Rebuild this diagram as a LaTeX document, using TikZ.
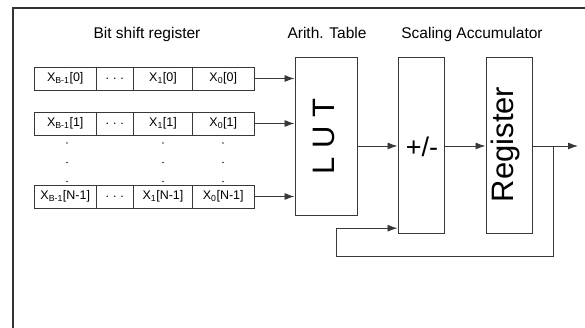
\documentclass[tikz,border=0pt]{standalone}
\usepackage{fontspec}
\setmainfont{Liberation Sans}
\usetikzlibrary{arrows.meta}

\definecolor{linegray}{gray}{0.22}
\definecolor{framegray}{gray}{0.2}

\tikzset{
    cell/.style={draw=linegray, line width=0.9pt, inner sep=0pt, minimum height=23pt,
        font=\fontsize{12.5}{14}\selectfont},
    block/.style={draw=linegray, line width=1pt, inner sep=0pt},
    title/.style={anchor=base, font=\fontsize{15.5}{18}\selectfont},
    bigtext/.style={anchor=base, font=\fontsize{31}{36}\selectfont},
    sig/.style={draw=linegray, line width=0.9pt, -{Latex[length=10pt,width=7pt]}},
}

\begin{document}
\begin{tikzpicture}[x=1pt,y=-1pt]
    \useasboundingbox (0,0) rectangle (585,328);
    \clip (0,0) rectangle (585,328);

    % Outer frame
    \draw[framegray, line width=1.8pt] (13,8) rectangle (600,340);

    % Headings
    \node[title] (t-bsr) at (147,39) {Bit shift register};
    \node[title] (t-lut) at (327,39) {Arith. Table};
    \node[title] (t-acc) at (472,39) {Scaling Accumulator};

    % Bit shift register rows
    \foreach \r/\y/\i in {0/78.5/0, 1/123.5/1, 2/196.5/N-1} {
        \node[cell, minimum width=61.5pt] (x\r-0) at (65.25,\y) {X\textsubscript{B-1}[\i]};
        \node[cell, minimum width=37.5pt] (x\r-1) at (114.75,\y) {.\hspace{4pt}.\hspace{4pt}.};
        \node[cell, minimum width=59pt]   (x\r-2) at (163,\y) {X\textsubscript{1}[\i]};
        \node[cell, minimum width=61.5pt] (x\r-3) at (223.25,\y) {X\textsubscript{0}[\i]};
    }

    % Vertical dots between rows
    \foreach \x in {67,163,223} {
        \foreach \y in {143,162.5,181.5} {
            \fill[linegray] (\x,\y) circle (0.8pt);
        }
    }

    % Table and accumulator blocks
    \node[block, minimum width=62pt, minimum height=158pt] (lut) at (326,137) {};
    \node[block, minimum width=46pt, minimum height=176pt] (pm) at (421,146) {};
    \node[block, minimum width=46.5pt, minimum height=176pt] (reg) at (509.25,146) {};

    \node[bigtext, rotate=90] (lut-txt) at (334.3,136.5) {L U T};
    \node[font=\fontsize{27}{32}\selectfont] (pm-txt) at (422,147) {+/-};
    \node[bigtext, rotate=90] (reg-txt) at (513.3,144.5) {Register};

    % Row outputs into the table
    \foreach \r in {0,1,2} {
        \draw[sig] (x\r-3.east) -- (x\r-3.east -| lut.west);
    }

    % Data path
    \coordinate (tap) at (553.3,146);
    \coordinate (out) at (578,146);
    \coordinate (fb) at (336.7,256.7);
    \draw[sig] (pm.west -| lut.east) -- (pm.west);
    \draw[sig] (pm.east) -- (reg.west);
    \draw[sig] (reg.east) -- (out);

    % Feedback into the adder
    \draw[sig] (tap) |- (fb) |- ([yshift=6.3pt]pm.south west);
\end{tikzpicture}
\end{document}
